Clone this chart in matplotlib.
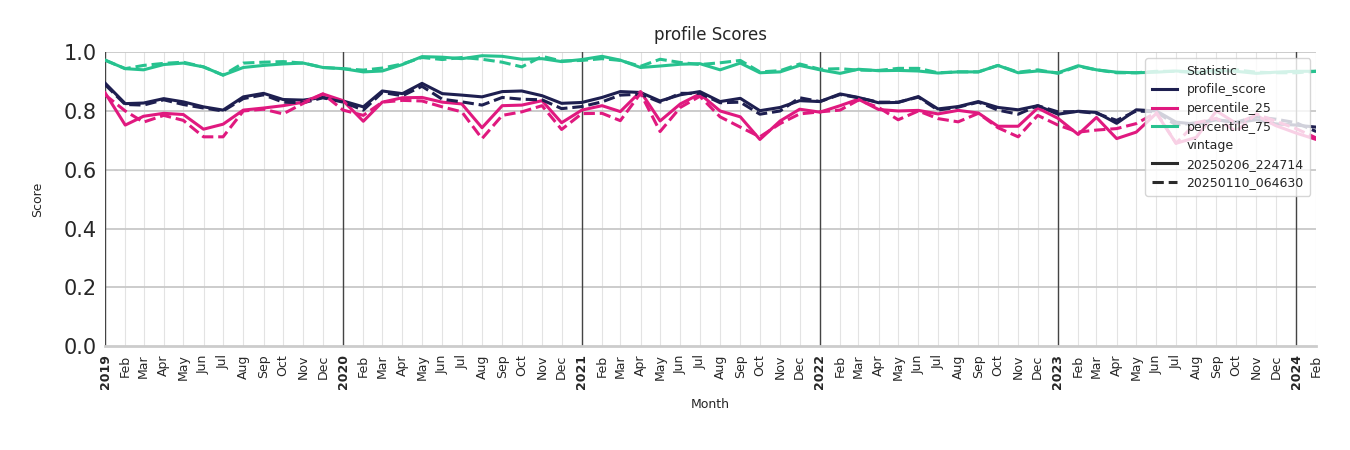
import pandas as pd
import matplotlib
matplotlib.use("Agg")
import matplotlib.pyplot as plt
from matplotlib.lines import Line2D

months = pd.date_range("2019-01-01", "2024-02-01", freq="MS")

# vintage 20250206_224714 (solid)
profile_score_new = [
    0.895, 0.825, 0.827, 0.842, 0.831, 0.814, 0.803, 0.848, 0.860, 0.839, 0.837, 0.846,
    0.834, 0.814, 0.868, 0.859, 0.894, 0.859, 0.854, 0.848, 0.866, 0.868, 0.852, 0.826,
    0.829, 0.846, 0.866, 0.863, 0.834, 0.855, 0.866, 0.832, 0.843, 0.801, 0.812, 0.835,
    0.832, 0.858, 0.846, 0.828, 0.829, 0.849, 0.807, 0.815, 0.832, 0.812, 0.804, 0.818,
    0.789, 0.799, 0.795, 0.758, 0.804, 0.800, 0.762, 0.755, 0.770, 0.760, 0.770, 0.756,
    0.752, 0.745]
percentile_25_new = [
    0.862, 0.752, 0.782, 0.792, 0.788, 0.738, 0.755, 0.803, 0.810, 0.818, 0.830, 0.858,
    0.835, 0.765, 0.830, 0.845, 0.846, 0.830, 0.824, 0.743, 0.818, 0.820, 0.835, 0.760,
    0.803, 0.818, 0.798, 0.866, 0.766, 0.824, 0.858, 0.800, 0.780, 0.703, 0.766, 0.806,
    0.796, 0.818, 0.840, 0.805, 0.800, 0.802, 0.790, 0.802, 0.793, 0.748, 0.748, 0.810,
    0.775, 0.720, 0.778, 0.706, 0.728, 0.792, 0.690, 0.710, 0.800, 0.758, 0.785, 0.750,
    0.725, 0.703]
percentile_75_new = [
    0.973, 0.944, 0.940, 0.958, 0.963, 0.950, 0.922, 0.948, 0.955, 0.960, 0.963, 0.948,
    0.944, 0.933, 0.936, 0.958, 0.985, 0.983, 0.978, 0.988, 0.986, 0.976, 0.978, 0.968,
    0.975, 0.986, 0.973, 0.948, 0.953, 0.959, 0.961, 0.940, 0.963, 0.930, 0.933, 0.955,
    0.940, 0.928, 0.942, 0.937, 0.938, 0.936, 0.929, 0.933, 0.933, 0.955, 0.930, 0.936,
    0.930, 0.954, 0.940, 0.932, 0.930, 0.932, 0.936, 0.932, 0.938, 0.935, 0.928, 0.932,
    0.935, 0.935]

# vintage 20250110_064630 (dashed)
profile_score_old = [
    0.890, 0.822, 0.820, 0.838, 0.822, 0.810, 0.800, 0.842, 0.855, 0.830, 0.828, 0.845,
    0.830, 0.803, 0.863, 0.852, 0.884, 0.840, 0.831, 0.820, 0.846, 0.840, 0.838, 0.808,
    0.815, 0.831, 0.854, 0.857, 0.830, 0.860, 0.860, 0.828, 0.830, 0.789, 0.800, 0.845,
    0.832, 0.856, 0.845, 0.830, 0.830, 0.847, 0.803, 0.813, 0.830, 0.803, 0.789, 0.818,
    0.797, 0.798, 0.792, 0.768, 0.800, 0.797, 0.752, 0.760, 0.770, 0.762, 0.780, 0.772,
    0.760, 0.730]
percentile_25_old = [
    0.855, 0.800, 0.762, 0.785, 0.768, 0.712, 0.712, 0.800, 0.806, 0.790, 0.826, 0.858,
    0.803, 0.785, 0.830, 0.836, 0.834, 0.814, 0.797, 0.706, 0.785, 0.797, 0.818, 0.737,
    0.791, 0.792, 0.767, 0.860, 0.730, 0.812, 0.850, 0.780, 0.745, 0.712, 0.757, 0.790,
    0.797, 0.803, 0.837, 0.812, 0.770, 0.800, 0.774, 0.763, 0.792, 0.743, 0.712, 0.785,
    0.752, 0.728, 0.735, 0.740, 0.757, 0.795, 0.690, 0.760, 0.775, 0.730, 0.790, 0.765,
    0.740, 0.708]
percentile_75_old = [
    0.973, 0.944, 0.955, 0.962, 0.966, 0.950, 0.922, 0.963, 0.966, 0.968, 0.963, 0.948,
    0.944, 0.939, 0.946, 0.960, 0.982, 0.975, 0.982, 0.976, 0.966, 0.950, 0.986, 0.970,
    0.972, 0.978, 0.972, 0.952, 0.976, 0.965, 0.958, 0.964, 0.972, 0.933, 0.937, 0.960,
    0.942, 0.944, 0.939, 0.938, 0.945, 0.945, 0.930, 0.933, 0.933, 0.955, 0.932, 0.940,
    0.928, 0.952, 0.940, 0.930, 0.930, 0.935, 0.935, 0.930, 0.932, 0.940, 0.932, 0.930,
    0.930, 0.935]

stats = ["profile_score", "percentile_25", "percentile_75"]
colors = {"profile_score": "#1e1f50", "percentile_25": "#e0197f", "percentile_75": "#27c28f"}
vintages = ["20250206_224714", "20250110_064630"]
series = {
    ("profile_score", vintages[0]): profile_score_new,
    ("percentile_25", vintages[0]): percentile_25_new,
    ("percentile_75", vintages[0]): percentile_75_new,
    ("profile_score", vintages[1]): profile_score_old,
    ("percentile_25", vintages[1]): percentile_25_old,
    ("percentile_75", vintages[1]): percentile_75_old,
}
styles = {vintages[0]: "-", vintages[1]: "--"}

fig = plt.figure(figsize=(13.5, 4.5), dpi=100)
ax = fig.add_axes([0.0778, 0.231, 0.8972, 0.653])

# grid
for m in months:
    ax.axvline(m, color="#e3e3e3", lw=0.8, zorder=0)
for yv in [0.2, 0.4, 0.6, 0.8, 1.0]:
    ax.axhline(yv, color="#c8c8c8", lw=1.3, zorder=0)
for m in months[months.month == 1]:
    ax.axvline(m, color="#444444", lw=1.0, zorder=1)

for v in vintages:
    for s in stats:
        ax.plot(months, series[(s, v)], color=colors[s], linestyle=styles[v], lw=2.2, zorder=3)

ax.set_xlim(months[0], months[-1])
ax.set_ylim(0, 1.0)
ax.set_yticks([0.0, 0.2, 0.4, 0.6, 0.8, 1.0])
ax.tick_params(axis="y", labelsize=15, length=0, pad=6, colors="#262626")
for sp in ["top", "right", "left"]:
    ax.spines[sp].set_visible(False)
ax.spines["bottom"].set_color("#cccccc")
ax.spines["bottom"].set_linewidth(2)

ax.set_xticks(months)
labels = [str(m.year) if m.month == 1 else m.strftime("%b") for m in months]
ax.set_xticklabels(labels, rotation=90, fontsize=9, color="#262626")
for lab, m in zip(ax.get_xticklabels(), months):
    if m.month == 1:
        lab.set_fontweight("bold")
ax.tick_params(axis="x", length=0, pad=6)

ax.set_title("profile Scores", fontsize=12, color="#262626", pad=9)
ax.set_ylabel("Score", fontsize=9, color="#262626", labelpad=14)
ax.set_xlabel("Month", fontsize=9, color="#262626", labelpad=6)

blank = Line2D([], [], color="none")
handles = [blank] + [Line2D([], [], color=colors[s], lw=2.2) for s in stats] + [blank] + \
          [Line2D([], [], color="#2b2b2b", lw=2.2, linestyle=styles[v]) for v in vintages]
names = ["Statistic"] + stats + ["vintage"] + vintages
leg = ax.legend(handles, names, loc="upper right", fontsize=9, frameon=True,
                handlelength=2.0, borderpad=0.5, labelspacing=0.45,
                bbox_to_anchor=(1.0, 1.0))
leg.get_frame().set_edgecolor("#cccccc")
leg.get_frame().set_alpha(0.8)
for t in leg.get_texts():
    t.set_color("#262626")

fig.savefig("out.png", dpi=100)
